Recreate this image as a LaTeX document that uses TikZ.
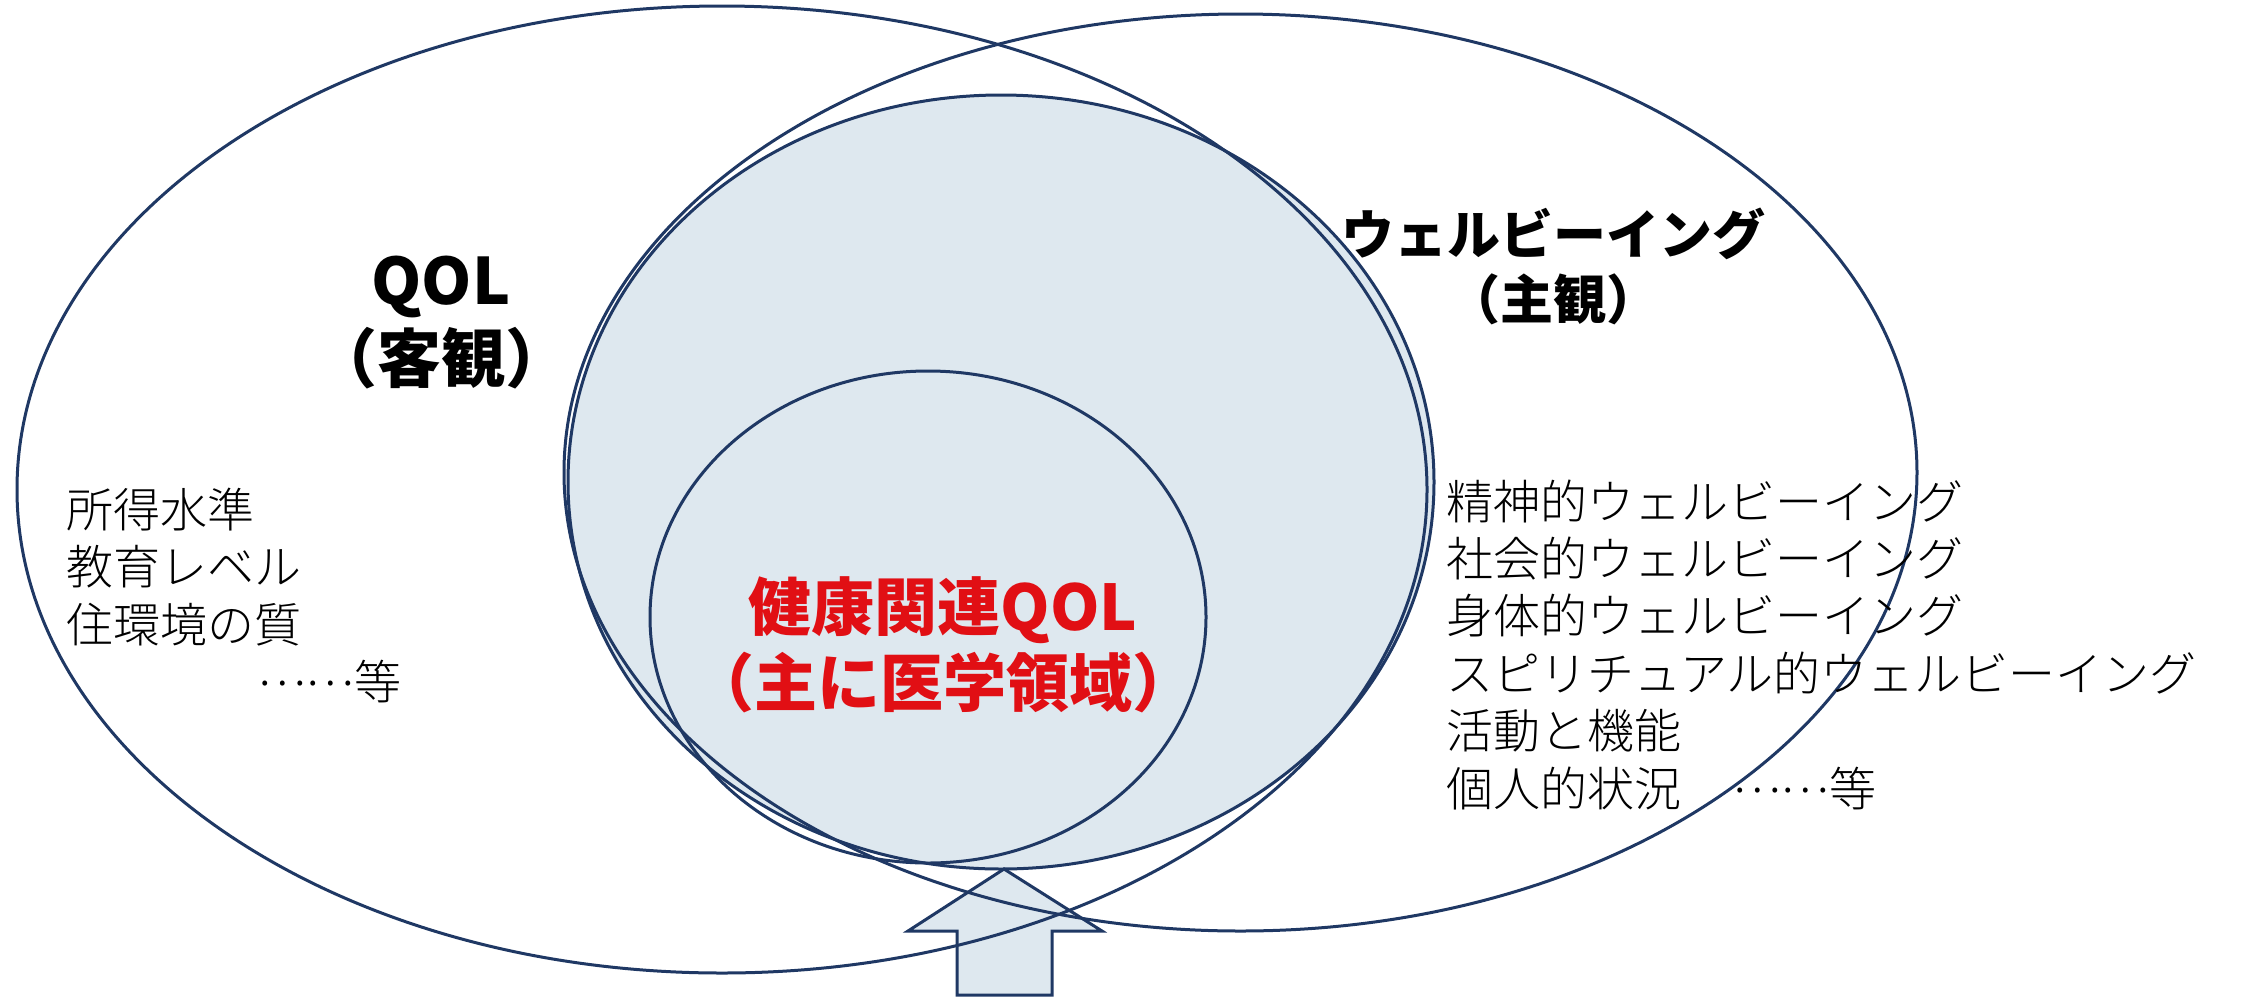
\documentclass[tikz,border=0pt]{standalone}
\usepackage{fontspec}
\setmainfont{Noto Sans CJK JP}
\newfontfamily\jplight{Noto Sans CJK JP Light}
\definecolor{navy}{RGB}{31,56,100}
\definecolor{paleblue}{RGB}{222,232,239}
\definecolor{redtxt}{RGB}{225,15,20}
\newcommand{\middots}{\raisebox{14pt}{……}}
\tikzset{
  outline/.style={draw=navy, line width=3pt},
  listtxt/.style={inner sep=0pt, anchor=base west, font=\jplight\fontsize{47pt}{57pt}\selectfont},
  bigtitle/.style={inner sep=0pt, anchor=base, font=\fontsize{64pt}{77pt}\selectfont\bfseries},
  wbtitle/.style={inner sep=0pt, anchor=base, font=\fontsize{53pt}{65pt}\selectfont\bfseries},
  redtitle/.style={inner sep=0pt, anchor=base, text=redtxt, font=\fontsize{63pt}{78pt}\selectfont\bfseries}
}
\begin{document}
\begin{tikzpicture}[x=1pt, y=-1pt]
\useasboundingbox (0,0) rectangle (2241,997);
% shaded health-related ellipse
\coordinate (hc) at (1001,482);
\fill[paleblue] (hc) ellipse [x radius=433pt, y radius=387pt];
% arrow
\coordinate (tip) at (1004,869);
\draw[outline, fill=paleblue, line join=miter]
  (tip) -- (1102,931) -- (1052,931) -- (1052,995) -- (957,995) -- (957,931) -- (908,931) -- cycle;
\draw[outline] (hc) ellipse [x radius=433pt, y radius=387pt];
% big ellipses
\coordinate (qc) at (722,489.5);
\draw[outline] (qc) ellipse [x radius=705pt, y radius=483.5pt];
\coordinate (wc) at (1240.5,472.5);
\draw[outline] (wc) ellipse [x radius=676.5pt, y radius=458.5pt];
% inner ellipse
\coordinate (ic) at (928,617);
\draw[outline] (ic) ellipse [x radius=278pt, y radius=246pt];
% titles
\node[bigtitle] (qol) at (441,304) {QOL};
\node[bigtitle] (qolsub) at (441,382) {（客観）};
\node[wbtitle] (wb) at (1553,254) {ウェルビーイング};
\node[wbtitle] (wbsub) at (1553,319) {（主観）};
\node[redtitle] (hq) at (943,630) {健康関連QOL};
\node[redtitle] (hqsub) at (943,706) {（主に医学領域）};
% left list
\node[listtxt] (l1) at (66,527) {所得水準};
\node[listtxt] (l2) at (66,584.5) {教育レベル};
\node[listtxt] (l3) at (66,642) {住環境の質};
\node[listtxt] (l4) at (257,699.5) {\middots 等};
% right list
\node[listtxt] (r1) at (1446,519) {精神的ウェルビーイング};
\node[listtxt] (r2) at (1446,576.4) {社会的ウェルビーイング};
\node[listtxt] (r3) at (1446,633.8) {身体的ウェルビーイング};
\node[listtxt] (r4) at (1446,691.2) {スピリチュアル的ウェルビーイング};
\node[listtxt] (r5) at (1446,748.6) {活動と機能};
\node[listtxt] (r6) at (1446,806) {個人的状況\hspace{51pt}\middots 等};
\end{tikzpicture}
\end{document}
